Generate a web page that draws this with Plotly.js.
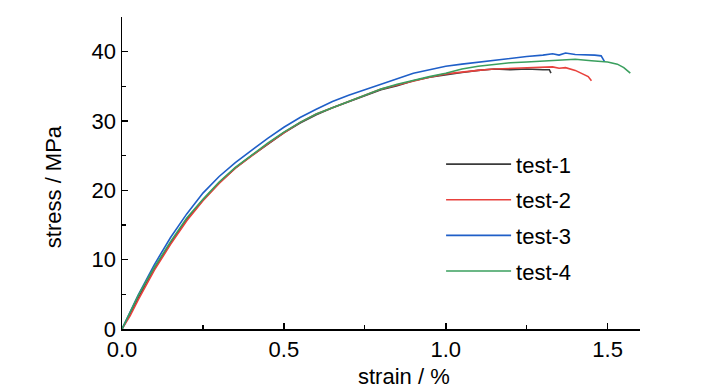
<!DOCTYPE html>
<html>
<head>
<meta charset="utf-8">
<script src="https://cdn.plot.ly/plotly-3.0.1.min.js"></script>
<style>html,body{margin:0;padding:0;background:#fff;}#chart{width:727px;height:390px;}</style>
</head>
<body>
<div id="chart"></div>
<script>
// strain (%) and stress (MPa)
var strain1 = [0, 0.025, 0.05, 0.075, 0.1, 0.15, 0.2, 0.25, 0.3, 0.35, 0.4, 0.45, 0.5, 0.55, 0.6, 0.65, 0.7, 0.75, 0.8, 0.85, 0.9, 0.95, 1.0, 1.05, 1.1, 1.15, 1.2, 1.25, 1.3, 1.32, 1.325];
var stress1 = [0, 2.3, 4.6, 6.7, 8.7, 12.4, 15.8, 18.6, 21.1, 23.2, 25.0, 26.7, 28.3, 29.7, 30.9, 31.9, 32.8, 33.6, 34.5, 35.1, 35.8, 36.3, 36.7, 37.0, 37.3, 37.5, 37.4, 37.5, 37.4, 37.4, 36.9];

var strain2 = [0, 0.025, 0.05, 0.075, 0.1, 0.15, 0.2, 0.25, 0.3, 0.35, 0.4, 0.45, 0.5, 0.55, 0.6, 0.65, 0.7, 0.75, 0.8, 0.85, 0.9, 0.95, 1.0, 1.05, 1.1, 1.15, 1.2, 1.25, 1.3, 1.33, 1.35, 1.37, 1.4, 1.42, 1.44, 1.45];
var stress2 = [0, 1.9, 4.2, 6.4, 8.5, 12.2, 15.6, 18.5, 21.0, 23.2, 25.0, 26.7, 28.3, 29.8, 31.0, 31.9, 32.8, 33.7, 34.6, 35.2, 35.8, 36.3, 36.8, 37.1, 37.3, 37.5, 37.6, 37.6, 37.7, 37.8, 37.6, 37.7, 37.3, 36.9, 36.4, 35.8];

var strain3 = [0, 0.025, 0.05, 0.075, 0.1, 0.15, 0.2, 0.25, 0.3, 0.35, 0.4, 0.45, 0.5, 0.55, 0.6, 0.65, 0.7, 0.75, 0.8, 0.85, 0.9, 0.95, 1.0, 1.05, 1.1, 1.15, 1.2, 1.25, 1.3, 1.33, 1.35, 1.37, 1.4, 1.43, 1.46, 1.48, 1.49];
var stress3 = [0, 2.5, 4.9, 7.1, 9.3, 13.2, 16.6, 19.6, 22.0, 24.0, 25.8, 27.5, 29.1, 30.5, 31.7, 32.8, 33.7, 34.5, 35.4, 36.2, 36.9, 37.4, 37.9, 38.2, 38.5, 38.8, 39.1, 39.3, 39.5, 39.7, 39.5, 39.8, 39.6, 39.6, 39.5, 39.4, 38.6];

var strain4 = [0, 0.025, 0.05, 0.075, 0.1, 0.15, 0.2, 0.25, 0.3, 0.35, 0.4, 0.45, 0.5, 0.55, 0.6, 0.65, 0.7, 0.75, 0.8, 0.85, 0.9, 0.95, 1.0, 1.05, 1.1, 1.15, 1.2, 1.25, 1.3, 1.35, 1.4, 1.45, 1.5, 1.53, 1.55, 1.57];
var stress4 = [0, 2.5, 4.8, 6.9, 8.9, 12.6, 16.0, 18.7, 21.2, 23.3, 25.1, 26.8, 28.4, 29.8, 31.0, 31.9, 32.8, 33.7, 34.6, 35.3, 35.9, 36.4, 36.9, 37.5, 37.9, 38.2, 38.4, 38.5, 38.6, 38.8, 38.9, 38.7, 38.5, 38.2, 37.7, 36.9];

var names = ["test-1", "test-2", "test-3", "test-4"];
var colors = ["#3a3a3a", "#e8413c", "#1f5fc8", "#3a9f5e"];
var xs = [strain1, strain2, strain3, strain4];
var ys = [stress1, stress2, stress3, stress4];

var FONT = "'Liberation Sans', Arial, sans-serif";

var traces = names.map(function (n, i) {
  return {
    x: xs[i], y: ys[i], name: n, type: "scatter", mode: "lines",
    line: {color: colors[i], width: 1.6},
    legendgroup: "g" + i
  };
});

var layout = {
  width: 727, height: 390,
  margin: {l: 122, r: 87, t: 17, b: 61, pad: 0},
  paper_bgcolor: "#ffffff", plot_bgcolor: "#ffffff",
  font: {family: FONT, size: 22, color: "#000"},
  showlegend: true,
  legend: {
    x: 0.616, y: 0.595, xanchor: "left", yanchor: "top",
    bgcolor: "rgba(0,0,0,0)", borderwidth: 0,
    font: {family: FONT, size: 22, color: "#000"},
    itemwidth: 65, tracegroupgap: 4
  },
  xaxis: {
    range: [0, 1.6], dtick: 0.5, tick0: 0, tickformat: ".1f",
    showline: true, linecolor: "#000", linewidth: 1.5,
    ticks: "inside", ticklen: 6, tickwidth: 1.5, tickcolor: "#000",
    minor: {ticks: "inside", ticklen: 4, dtick: 0.25, tickwidth: 1.2, tickcolor: "#000", showgrid: false},
    showgrid: false, zeroline: false,
    tickfont: {family: FONT, size: 22, color: "#000"}
  },
  yaxis: {
    range: [0, 45], dtick: 10, tick0: 0,
    showline: true, linecolor: "#000", linewidth: 1.5,
    ticks: "inside", ticklen: 6, tickwidth: 1.5, tickcolor: "#000",
    minor: {ticks: "inside", ticklen: 4, dtick: 5, tickwidth: 1.2, tickcolor: "#000", showgrid: false},
    showgrid: false, zeroline: false,
    tickfont: {family: FONT, size: 22, color: "#000"}
  },
  annotations: [
    {text: "strain / %", xref: "paper", yref: "paper", x: 0.544, y: -0.152,
     xanchor: "center", yanchor: "middle", showarrow: false,
     font: {family: FONT, size: 22, color: "#000"}},
    {text: "stress / MPa", xref: "paper", yref: "paper", x: -0.133, y: 0.455,
     xanchor: "center", yanchor: "middle", showarrow: false, textangle: -90,
     font: {family: FONT, size: 22, color: "#000"}}
  ]
};

Plotly.newPlot("chart", traces, layout, {staticPlot: true, displayModeBar: false});
</script>
</body>
</html>
